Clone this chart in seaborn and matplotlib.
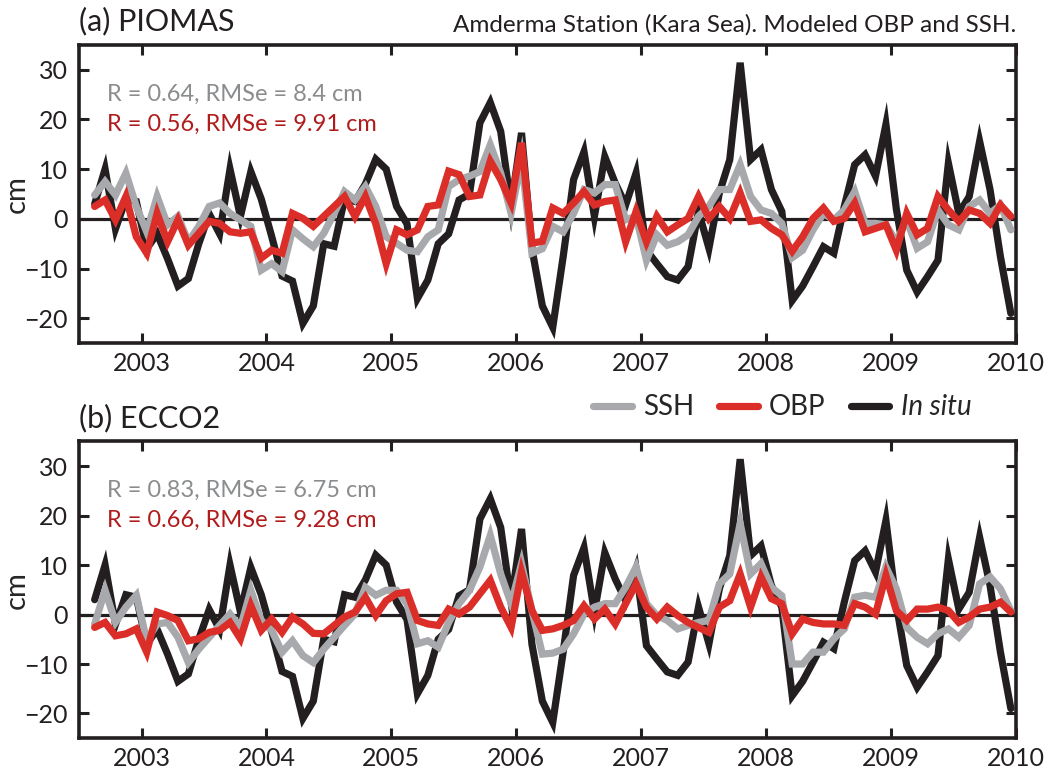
import numpy as np
import pandas as pd
import matplotlib
matplotlib.use("Agg")
import matplotlib.pyplot as plt
import seaborn as sns
from matplotlib.lines import Line2D

# ---- data: monthly values, Aug 2002 .. Dec 2009 (cm) ----
start_year, start_month, n_months = 2002, 8, 89

insitu = [3, 10, -2, 4, 3.5,
          -6, -3, -8, -13.5, -12, -5, 1, -3, 10, 0.5, 9.5, 4,
          -3.5, -11.5, -12.5, -21, -17.5, -5, -5.5, 4, 3.5, 7, 12, 10,
          2.5, -1, -16, -12.3, -5, -3, 3.8, 5, 19.3, 23.4, 17.6, 2.5,
          17.3, -6, -17.5, -21.8, -7.6, 7.9, 13.5, 0.5, 12.5, 7.2, 2.8, 9.2,
          -6.3, -9, -11.6, -12.3, -9.6, 1.5, -5.9, 5.2, 11.9, 31.4, 11.9, 13.9,
          5.9, 1.5, -16.4, -13.5, -9.6, -5.6, -6.9, 2.5, 10.9, 12.9, 8.6, 19,
          2, -10.3, -14.7, -11.6, -8.3, 11.2, 1.1, 4.5, 15.6, 5.9, -7.6, -19]

ssh_piomas = [4.8, 7.5, 4.8, 9.2, 2.5,
              -2.6, 4.5, -1.2, 0.5, -4.6, -1.5, 2.5, 3.2, 1.1, -0.2, -1.5, -10.3,
              -9, -10.6, -2.2, -4, -5.6, -2.9, 1.1, 5.5, 3.8, 6.5, 2.5, -3.6,
              -4.9, -6.3, -6.6, -3.6, -2.2, 6.5, 7.9, 8.6, 9.5, 14.9, 9.2, 1.1,
              12, -6.9, -6, -1.5, -2.6, 1.1, 5.9, 5.2, 6.9, 6.9, -0.2, 0.5,
              -8.3, -3.2, -5.3, -4.6, -3.2, 0.5, 2.5, 5.9, 5.9, 10.9, 4.5, 1.8,
              1.1, -0.9, -7.8, -6.3, -2.2, 1.1, -0.2, 1.8, 5.5, -0.9, -0.9, -1.2,
              -4.6, -0.2, -5.9, -4.6, 1.8, -1.2, -2.2, 2.5, 3.8, 1.1, 2.8, -2.2]

obp_piomas = [2.5, 3.8, -0.2, 4.5, -3.6,
              -6.9, 1.1, -4.6, -0.2, -5.3, -2.9, -0.5, -0.9, -2.6, -2.9, -2.6, -7.9,
              -6.3, -6.9, 1.1, 0.1, -1.5, 0.5, 2.5, 4.5, 0.5, 4.5, -1, -9,
              -2.2, -3.2, -2.2, 2.5, 2.8, 9.6, 8.9, 4.5, 4.8, 11.6, 7.9, 3.2,
              15.3, -4.9, -4.5, 2.2, 1.1, 3.2, 5.5, 2.8, 3.5, 3.8, -4.6, 1.5,
              -4.6, 0.5, -2.6, -1.2, 0.1, 4.5, 0.1, 2.5, 0.1, 5.2, -0.5, -0.2,
              -1.9, -3.2, -6.5, -3.6, 0.1, 2.2, -0.5, 0.1, 3.2, -2.6, -1.9, -1.2,
              -6.3, 1.1, -3.2, -1.9, 4.5, 1.8, -0.5, 1.8, 1.1, -0.9, 2.8, 0.5]

ssh_ecco2 = [-1.9, 4.9, -1.6, 1.5, 3.9,
             -5.3, -1.9, -1.6, -4.6, -9.7, -7, -4.6, -2.2, 0.1, -2.6, 4.9, -1.2,
             -3.2, -7.6, -5.3, -8.3, -9.7, -7, -4.6, -2.2, 0.1, 5.5, 3.9, 4.9,
             4.9, 2.2, -5.9, -5.3, -6.6, -1.6, 2.2, 4.9, 9.6, 16, 8.2, 2.2,
             10.3, 0.8, -8, -7.8, -7, -3.9, 0.1, 1.5, 2.2, 2.2, 5.5, 9.6,
             2.2, -0.2, -1.2, -2.9, -2.2, -1.6, -1.2, 6.2, 8.2, 18.4, 8.2, 10.3,
             5.5, 3.8, -10, -10, -7.6, -7.6, -4.9, -2.9, 3.5, 3.9, 3.5, 9.6,
             5.2, -2.6, -4.6, -5.9, -3.9, -2.9, -4.6, -2.2, 6.2, 7.6, 5.2, 0.8]

obp_ecco2 = [-2.6, -1.6, -4.3, -3.9, -2.9,
             -7.6, 0.5, -0.2, -1.2, -5.3, -4.9, -3.6, -3.2, -1.6, -4.9, 1.8, -3.2,
             -0.9, -3.6, -0.5, -1.9, -3.8, -3.9, -2.2, -0.5, 0.5, 3.5, -0.2, 2.8,
             4.2, 4.5, -1.2, -1.9, -2.2, 1.1, 0.1, 1.5, 4.2, 6.9, 1.5, -2.6,
             8.6, 0.8, -3.2, -2.9, -2.2, -1.2, 1.8, -0.9, 1.1, -1.9, 2.2, 6.2,
             1.5, -0.9, 1.5, -0.2, -1.6, -2.6, -3.6, 1.5, 2.8, 8.2, 1.5, 7.6,
             3.2, 2.2, -3.9, -0.9, -1.6, -1.9, -1.9, -2.2, 2.2, 1.5, 0.1, 7.9,
             0.8, -1.2, 1.1, 1.1, 1.5, 0.8, -1.6, -0.5, 1.1, 1.5, 2.5, 0.5]

panel_titles = ["(a) PIOMAS", "(b) ECCO2"]
stats_ssh = ["R = 0.64, RMSe = 8.4 cm", "R = 0.83, RMSe = 6.75 cm"]
stats_obp = ["R = 0.56, RMSe = 9.91 cm", "R = 0.66, RMSe = 9.28 cm"]
x_ticks = [2003, 2004, 2005, 2006, 2007, 2008, 2009, 2010]
y_ticks = [-20, -10, 0, 10, 20, 30]

# decimal year at mid-month
dates = pd.date_range(f"{start_year}-{start_month:02d}-01", periods=n_months, freq="MS")
t = dates.year + (dates.month - 0.5) / 12.0

colors = {"SSH": "#a7a9ac", "OBP": "#dc2e28", "In situ": "#231f20"}
txt_gray = "#8a8c8e"
txt_red = "#b01c1c"

frames = []
for p, (ssh, obp) in enumerate([(ssh_piomas, obp_piomas), (ssh_ecco2, obp_ecco2)]):
    for name, vals in [("In situ", insitu), ("SSH", ssh), ("OBP", obp)]:
        frames.append(pd.DataFrame({"t": t, "cm": vals, "series": name, "panel": p}))
df = pd.concat(frames, ignore_index=True)

sns.set_style("ticks")
FONT = ["Lato", "DejaVu Sans"]
plt.rcParams["font.family"] = FONT

fig = plt.figure(figsize=(10.54, 7.73), dpi=100)
axes = [fig.add_axes([0.075, 0.556, 0.889, 0.386]),
        fig.add_axes([0.075, 0.045, 0.889, 0.384])]

for p, ax in enumerate(axes):
    ax.axhline(0, color="#231f20", lw=2.3, zorder=1)
    sub = df[df.panel == p]
    for k, name in enumerate(["In situ", "SSH", "OBP"]):
        sns.lineplot(data=sub[sub.series == name], x="t", y="cm", ax=ax,
                     color=colors[name], lw=5.2, legend=False, zorder=2 + k,
                     solid_joinstyle="miter", estimator=None)
    ax.set_xlim(2002.5, 2010)
    ax.set_ylim(-25, 35)
    ax.set_xticks(x_ticks)
    ax.set_yticks(y_ticks)
    ax.set_yticklabels([str(v).replace("-", "\u2212") for v in y_ticks])
    ax.set_xlabel("")
    ax.set_ylabel("cm", fontsize=21)
    ax.yaxis.set_label_coords(-0.053, 0.5)
    ax.tick_params(direction="in", length=7, width=2.2, top=True, right=True,
                   labelsize=18, colors="#231f20")
    ax.tick_params(axis="y", pad=8)
    ax.tick_params(axis="x", pad=6)
    for s in ax.spines.values():
        s.set_linewidth(2.6)
        s.set_color("#231f20")
    ax.text(0.0, 1.03, panel_titles[p], transform=ax.transAxes, fontsize=22,
            ha="left", va="bottom", color="#231f20")
    ax.text(0.03, 0.835, stats_ssh[p], transform=ax.transAxes, fontsize=17,
            color=txt_gray, ha="left", va="center")
    ax.text(0.03, 0.733, stats_obp[p], transform=ax.transAxes, fontsize=17,
            color=txt_red, ha="left", va="center")

axes[0].text(1.0, 1.03, "Amderma Station (Kara Sea). Modeled OBP and SSH.",
             transform=axes[0].transAxes, fontsize=17.5, ha="right", va="bottom",
             color="#231f20")

handles = [Line2D([], [], color=colors[n], lw=5.2) for n in ["SSH", "OBP", "In situ"]]
leg = fig.legend(handles, ["SSH", "OBP", "In situ"], loc="center",
                 bbox_to_anchor=(0.742, 0.473), ncol=3, frameon=False,
                 fontsize=20, handlelength=1.4, handletextpad=0.4,
                 columnspacing=0.9)
leg.get_texts()[2].set_style("italic")

fig.savefig("out.png", dpi=100)
